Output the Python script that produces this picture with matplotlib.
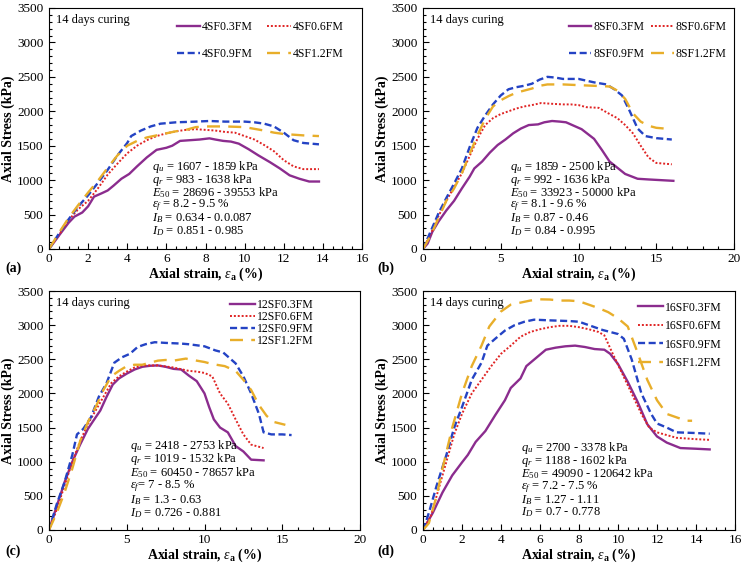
import matplotlib
matplotlib.use("Agg")
import matplotlib.pyplot as plt
from matplotlib.ticker import MultipleLocator

plt.rcParams['font.family'] = ['Liberation Serif', 'DejaVu Serif']
plt.rcParams['mathtext.fontset'] = 'custom'
plt.rcParams['mathtext.rm'] = 'Liberation Serif'
plt.rcParams['mathtext.it'] = 'Liberation Serif:italic'
plt.rcParams['mathtext.bf'] = 'Liberation Serif:bold'

# ---------------- data ----------------
# Panel (a) 4SF
a_03_x = [0, 0.6, 1.0, 1.3, 1.7, 2.0, 2.3, 2.7, 3.0, 3.3, 3.7, 4.1, 4.5, 5.0, 5.5, 6.0, 6.3, 6.7, 7.2, 7.7, 8.2, 8.5, 8.9, 9.3, 9.7, 10.2, 10.7, 11.3, 11.8, 12.3, 12.8, 13.3, 13.8]
a_03_y = [0, 230, 380, 470, 530, 620, 760, 810, 850, 920, 1020, 1090, 1200, 1330, 1440, 1470, 1500, 1570, 1580, 1590, 1607, 1590, 1570, 1560, 1530, 1450, 1360, 1260, 1170, 1070, 1020, 980, 980]
a_06_x = [0, 0.5, 1, 1.5, 2, 2.5, 3, 3.5, 4, 4.5, 5, 5.5, 6, 6.5, 7, 7.5, 8, 8.5, 9, 9.5, 10, 10.5, 11, 11.5, 12, 12.5, 13, 13.8]
a_06_y = [0, 200, 420, 580, 700, 880, 1080, 1240, 1390, 1500, 1580, 1640, 1680, 1710, 1730, 1740, 1730, 1720, 1700, 1690, 1640, 1590, 1510, 1420, 1290, 1200, 1160, 1160]
a_09_x = [0, 0.5, 1, 1.5, 2, 2.5, 3, 3.5, 4, 4.2, 4.7, 5.2, 5.7, 6.5, 7.5, 8.2, 9, 10, 10.5, 11, 11.5, 12, 12.5, 13, 13.8]
a_09_y = [0, 220, 430, 620, 780, 960, 1150, 1360, 1540, 1640, 1720, 1780, 1820, 1840, 1850, 1859, 1850, 1850, 1840, 1820, 1780, 1690, 1580, 1540, 1520]
a_12_x = [0, 0.5, 1, 1.5, 2, 2.5, 3, 3.5, 4, 4.5, 5, 5.5, 6, 6.5, 7, 7.5, 8, 9, 10, 11, 11.5, 12, 13, 13.8]
a_12_y = [0, 230, 450, 640, 820, 990, 1180, 1360, 1500, 1570, 1620, 1650, 1680, 1710, 1730, 1770, 1780, 1780, 1770, 1720, 1690, 1670, 1650, 1640]

# Panel (b) 8SF
b_03_x = [0, 0.3, 0.6, 1, 1.5, 2, 2.5, 3, 3.3, 3.8, 4.3, 4.8, 5.3, 5.8, 6.3, 6.8, 7.4, 7.8, 8.3, 8.8, 9.2, 9.7, 10.2, 10.6, 11.0, 11.5, 12, 12.5, 13, 13.8, 14.5, 15.3, 16.1]
b_03_y = [0, 80, 250, 400, 560, 700, 880, 1050, 1170, 1270, 1400, 1510, 1590, 1680, 1750, 1800, 1810, 1840, 1859, 1850, 1840, 1790, 1740, 1670, 1600, 1440, 1270, 1180, 1090, 1020, 1010, 1000, 990]
b_06_x = [0, 0.5, 1, 1.5, 2, 2.5, 3, 3.5, 4, 4.5, 5, 5.5, 6, 6.5, 7, 7.6, 8.2, 9, 9.5, 10, 10.5, 11.3, 12, 12.5, 13, 13.5, 14, 14.5, 15, 16]
b_06_y = [0, 220, 480, 700, 900, 1100, 1350, 1600, 1800, 1900, 1960, 2000, 2040, 2070, 2090, 2120, 2110, 2100, 2100, 2090, 2060, 2050, 1960, 1900, 1800, 1680, 1500, 1330, 1250, 1230]
b_09_x = [0, 0.5, 1, 1.5, 2, 2.5, 3, 3.5, 4, 4.5, 5, 5.5, 6, 6.5, 7, 7.5, 8, 8.5, 9, 10, 11, 11.8, 12.3, 12.8, 13.3, 13.8, 14.3, 15, 16]
b_09_y = [0, 260, 520, 740, 950, 1170, 1480, 1760, 1940, 2100, 2230, 2320, 2350, 2370, 2400, 2460, 2500, 2490, 2470, 2470, 2420, 2390, 2320, 2230, 2000, 1750, 1640, 1610, 1590]
b_12_x = [0, 0.5, 1, 1.5, 2, 2.5, 3, 3.5, 4, 4.5, 5, 5.5, 6, 6.5, 7, 7.5, 8, 9, 10, 11, 12, 12.5, 13, 13.5, 14, 14.5, 15, 16]
b_12_y = [0, 200, 450, 700, 880, 1100, 1380, 1650, 1890, 2070, 2160, 2220, 2270, 2300, 2330, 2370, 2390, 2390, 2380, 2370, 2360, 2300, 2180, 1970, 1850, 1790, 1760, 1740]

# Panel (c) 12SF
c_03_x = [0, 0.5, 1, 1.5, 2, 2.5, 3, 3.3, 3.7, 4.1, 4.5, 5, 5.5, 6, 6.5, 7, 7.5, 8, 8.5, 9, 9.5, 10, 10.3, 10.6, 11, 11.5, 12, 12.5, 13, 13.8]
c_03_y = [0, 350, 700, 1000, 1250, 1480, 1650, 1750, 1950, 2130, 2220, 2290, 2350, 2390, 2405, 2410, 2390, 2360, 2350, 2260, 2180, 2000, 1800, 1620, 1500, 1430, 1230, 1150, 1030, 1020]
c_06_x = [0, 0.5, 1, 1.5, 2, 2.5, 3, 3.5, 4, 4.5, 5, 5.5, 6, 7, 8, 9, 9.5, 10, 10.5, 11, 11.5, 12, 12.5, 13, 13.8]
c_06_y = [0, 300, 650, 1000, 1300, 1550, 1750, 1950, 2150, 2250, 2320, 2380, 2410, 2410, 2380, 2330, 2320, 2300, 2250, 2000, 1850, 1620, 1400, 1250, 1200]
c_09_x = [0, 0.5, 1, 1.5, 1.8, 2.2, 2.7, 3.2, 3.7, 4.2, 4.7, 5.2, 5.7, 6.2, 6.8, 7.5, 8.5, 9, 10, 10.7, 11.2, 11.6, 12, 12.5, 13, 13.5, 13.8, 14.3, 15, 15.6]
c_09_y = [0, 380, 700, 1100, 1400, 1480, 1650, 1950, 2150, 2450, 2530, 2580, 2680, 2720, 2750, 2740, 2730, 2720, 2690, 2630, 2600, 2520, 2440, 2250, 2000, 1700, 1430, 1400, 1400, 1390]
c_12_x = [0, 0.5, 1, 1.5, 2, 2.5, 3, 3.5, 4, 4.5, 5, 5.5, 6, 6.5, 7, 7.5, 8, 8.8, 9.5, 10, 10.5, 11.3, 12, 12.5, 13, 13.5, 14, 14.5, 15.2]
c_12_y = [0, 250, 550, 900, 1300, 1580, 1800, 2050, 2250, 2330, 2400, 2420, 2420, 2450, 2480, 2490, 2480, 2510, 2480, 2460, 2430, 2400, 2330, 2200, 2050, 1830, 1670, 1580, 1540]

# Panel (d) 16SF
d_03_x = [0, 0.5, 1, 1.5, 2, 2.3, 2.7, 3.2, 3.7, 4.2, 4.5, 5, 5.3, 5.8, 6.3, 6.8, 7.3, 7.8, 8.3, 8.8, 9.3, 9.6, 10, 10.5, 11, 11.5, 12, 12.5, 13.2, 14, 14.7]
d_03_y = [0, 250, 550, 800, 990, 1100, 1290, 1450, 1680, 1900, 2080, 2220, 2400, 2520, 2640, 2670, 2690, 2700, 2680, 2650, 2640, 2580, 2430, 2170, 1880, 1550, 1370, 1280, 1200, 1190, 1180]
d_06_x = [0, 0.4, 0.8, 1.2, 1.6, 2, 2.5, 3, 3.5, 4, 4.5, 5, 5.5, 6, 6.5, 7, 7.5, 8, 8.5, 9, 9.3, 9.7, 10.2, 10.7, 11.2, 11.6, 12, 12.5, 13, 14, 14.7]
d_06_y = [0, 200, 600, 1000, 1400, 1700, 2000, 2200, 2400, 2580, 2700, 2830, 2900, 2940, 2970, 2990, 2990, 2970, 2940, 2900, 2850, 2600, 2300, 2000, 1700, 1500, 1430, 1390, 1350, 1330, 1320]
d_09_x = [0, 0.3, 0.7, 1.2, 1.6, 2, 2.5, 3, 3.3, 3.7, 4.2, 4.7, 5.2, 5.7, 6.5, 7.5, 8, 8.5, 9.2, 10, 10.3, 10.7, 11.2, 11.7, 12, 12.5, 13, 14, 14.7]
d_09_y = [0, 250, 650, 1100, 1500, 1800, 2200, 2450, 2700, 2800, 2920, 3000, 3050, 3080, 3070, 3060, 3050, 3000, 2930, 2870, 2800, 2500, 2000, 1700, 1560, 1500, 1430, 1420, 1410]
d_12_x = [0, 0.3, 0.7, 1, 1.5, 2, 2.5, 3, 3.4, 4, 4.5, 5, 5.5, 6, 6.5, 7, 7.5, 8, 8.5, 9, 9.5, 10, 10.5, 11, 11.5, 12, 12.5, 13, 13.5, 13.8]
d_12_y = [0, 100, 500, 900, 1500, 2000, 2400, 2700, 2980, 3200, 3300, 3330, 3360, 3378, 3375, 3360, 3360, 3350, 3300, 3250, 3190, 3100, 2980, 2600, 2200, 1900, 1700, 1650, 1600, 1600]

series_suffixes = ['SF0.3FM', 'SF0.6FM', 'SF0.9FM', 'SF1.2FM']
panel_prefixes = ['4', '8', '12', '16']
panel_letters = ['(a)', '(b)', '(c)', '(d)']
x_max = [16, 20, 20, 16]

notes = [
    [r'$q_u$ = 1607 - 1859 kPa', r'$q_r$ = 983 - 1638 kPa', r'$E_{50}$ = 28696 - 39553 kPa',
     r'$\varepsilon_f$ = 8.2 - 9.5 %', r'$I_B$ = 0.634 - 0.0.087', r'$I_D$ = 0.851 - 0.985'],
    [r'$q_u$ = 1859 - 2500 kPa', r'$q_r$ = 992 - 1636 kPa', r'$E_{50}$ = 33923 - 50000 kPa',
     r'$\varepsilon_f$ = 8.1 - 9.6 %', r'$I_B$ = 0.87 - 0.46', r'$I_D$ = 0.84 - 0.995'],
    [r'$q_u$ = 2418 - 2753 kPa', r'$q_r$ = 1019 - 1532 kPa', r'$E_{50}$ = 60450 - 78657 kPa',
     r'$\varepsilon_f$= 7 - 8.5 %', r'$I_B$ = 1.3 - 0.63', r'$I_D$ = 0.726 - 0.881'],
    [r'$q_u$ = 2700 - 3378 kPa', r'$q_r$ = 1188 - 1602 kPa', r'$E_{50}$ = 49090 - 120642 kPa',
     r'$\varepsilon_f$ = 7.2 - 7.5 %', r'$I_B$ = 1.27 - 1.11', r'$I_D$ = 0.7 - 0.778'],
]

panels = [
    [(a_03_x, a_03_y), (a_06_x, a_06_y), (a_09_x, a_09_y), (a_12_x, a_12_y)],
    [(b_03_x, b_03_y), (b_06_x, b_06_y), (b_09_x, b_09_y), (b_12_x, b_12_y)],
    [(c_03_x, c_03_y), (c_06_x, c_06_y), (c_09_x, c_09_y), (c_12_x, c_12_y)],
    [(d_03_x, d_03_y), (d_06_x, d_06_y), (d_09_x, d_09_y), (d_12_x, d_12_y)],
]

# ---------------- styling ----------------
colors = ['#8B2C8E', '#E02424', '#2443C4', '#E8AE2A']
styles = [dict(ls='-', lw=1.7),
          dict(ls=(0, (1, 1)), lw=1.4),
          dict(ls=(0, (3, 1.5)), lw=1.7),
          dict(ls=(0, (5.5, 3.5)), lw=1.7)]

W, H = 744, 567
boxes = [(49, 8, 362, 249), (423, 8, 734, 249), (49, 291, 360, 530), (423, 291, 735, 530)]
# (x left frac, first line centre frac, line step frac)
note_pos = [(0.33, 0.34, 0.053), (0.28, 0.34, 0.053), (0.26, 0.351, 0.056), (0.314, 0.343, 0.054)]
letter_pos = [(5, 268), (377, 268), (5, 551), (377, 551)]

fig = plt.figure(figsize=(W / 100, H / 100), dpi=100)

for i in range(4):
    x0, y0, x1, y1 = boxes[i]
    ax = fig.add_axes([x0 / W, 1 - y1 / H, (x1 - x0) / W, (y1 - y0) / H])
    lines = []
    for j in range(4):
        xs, ys = panels[i][j]
        ln, = ax.plot(xs, ys, color=colors[j], label=panel_prefixes[i] + series_suffixes[j], **styles[j])
        lines.append(ln)
    ax.set_xlim(0, x_max[i])
    ax.set_ylim(0, 3500)
    ax.yaxis.set_major_locator(MultipleLocator(500))
    ax.yaxis.set_minor_locator(MultipleLocator(100))
    if x_max[i] == 16:
        ax.xaxis.set_major_locator(MultipleLocator(2))
        ax.xaxis.set_minor_locator(MultipleLocator(0.5))
    else:
        ax.xaxis.set_major_locator(MultipleLocator(5))
        ax.xaxis.set_minor_locator(MultipleLocator(1))
    ax.tick_params(which='both', direction='in', labelsize=9.5, width=0.8)
    ax.tick_params(which='major', length=4)
    ax.tick_params(axis='x', which='major', pad=3)
    ax.tick_params(axis='y', which='major', pad=4)
    ax.tick_params(which='minor', length=2.5)
    for s in ax.spines.values():
        s.set_linewidth(0.8)
    ax.set_ylabel('Axial Stress (kPa)', fontsize=10, fontweight='bold', labelpad=1)
    ax.set_xlabel(r'Axial strain, $\varepsilon_\mathbf{a}$ (%)', fontsize=10, fontweight='bold', labelpad=0)
    ax.text(0.022, 0.975, '14 days curing', transform=ax.transAxes, fontsize=9, va='top', ha='left')
    nx, ny, step = note_pos[i]
    for k, line in enumerate(notes[i]):
        ax.text(nx, ny - k * step, line, transform=ax.transAxes, fontsize=9, va='center', ha='left')
    if i == 0:
        order = [0, 2, 1, 3]
        ax.legend([lines[k] for k in order], [lines[k].get_label() for k in order],
                  ncol=2, loc='upper right', bbox_to_anchor=(0.975, 0.99), frameon=False,
                  fontsize=8.5, handlelength=2.0, labelspacing=1.25, columnspacing=1.2, handletextpad=0.15)
    elif i == 1:
        order = [0, 2, 1, 3]
        ax.legend([lines[k] for k in order], [lines[k].get_label() for k in order],
                  ncol=2, loc='upper right', bbox_to_anchor=(1.01, 0.99), frameon=False,
                  fontsize=8.5, handlelength=1.9, labelspacing=1.25, columnspacing=0.6, handletextpad=0.15)
    elif i == 2:
        ax.legend(ncol=1, loc='upper right', bbox_to_anchor=(0.885, 1.01), frameon=False,
                  fontsize=8.5, handlelength=2.1, labelspacing=0.0, handletextpad=0.15)
    else:
        ax.legend(ncol=1, loc='upper right', bbox_to_anchor=(0.99, 1.0), frameon=False,
                  fontsize=8.5, handlelength=2.1, labelspacing=0.55, handletextpad=0.15)
    lx, ly = letter_pos[i]
    fig.text(lx / W, 1 - ly / H, panel_letters[i], fontsize=10, fontweight='bold', va='center', ha='left')

fig.savefig('out.png', dpi=100)
